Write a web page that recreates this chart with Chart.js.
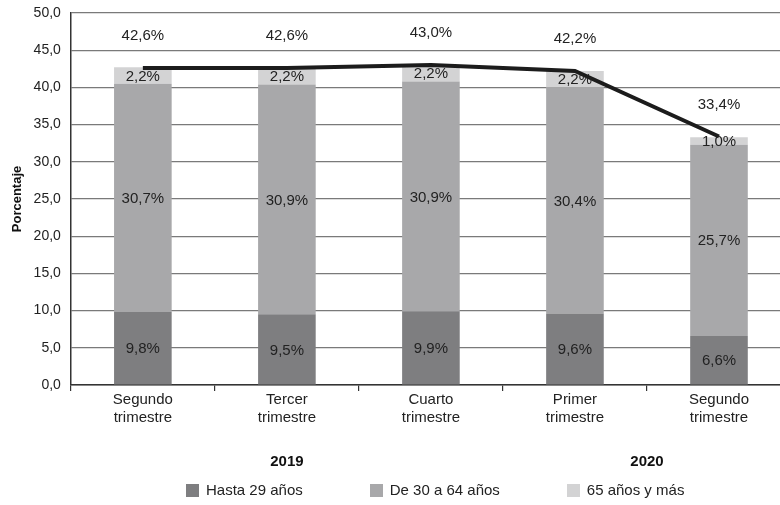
<!DOCTYPE html>
<html lang="es">
<head>
  <meta charset="UTF-8">
  <title>Porcentaje por edad</title>
  <style>
    body { margin: 0; overflow: hidden; background: #fff; font-family: 'Liberation Sans', Arial, sans-serif; }
    .wrap { position: relative; width: 791px; height: 505px; }
    #legend { position: absolute; left: 186px; top: 482px; display: flex; gap: 67px; font-size: 15px; color: #222; line-height: 16px; }
    #legend span.item { display: flex; align-items: center; white-space: nowrap; }
    #legend span.box { width: 13px; height: 13px; margin-right: 7px; display: inline-block; }
  </style>
</head>
<body>
  <div class="wrap">
    <canvas id="myChart" width="791" height="505"></canvas>
    <div id="legend"></div>
  </div>
  <script src="https://cdn.jsdelivr.net/npm/chart.js"></script>
  <script>
// data
const quarters = [['Segundo', 'trimestre'], ['Tercer', 'trimestre'], ['Cuarto', 'trimestre'], ['Primer', 'trimestre'], ['Segundo', 'trimestre']]
const years = ['2019', '2020']
const quartersPerYear = [3, 2]
const seriesNames = ['Hasta 29 años', 'De 30 a 64 años', '65 años y más']
const hasta29 = [9.8, 9.5, 9.9, 9.6, 6.6]
const de30a64 = [30.7, 30.9, 30.9, 30.4, 25.7]
const mas65 = [2.2, 2.2, 2.2, 2.2, 1.0]
const totals = [42.6, 42.6, 43.0, 42.2, 33.4]

const colors = ['#7e7e80', '#a8a8aa', '#d3d3d4']
const font = "'Liberation Sans', Arial, sans-serif"
const fmt = v => v.toFixed(1).replace('.', ',')

// center of each year group, in category units
let start = 0
const yearCenters = quartersPerYear.map(n => { const c = start + (n - 1) / 2; start += n; return c })

const valueLabels = {
  id: 'valueLabels',
  afterDatasetsDraw(chart) {
    const ctx = chart.ctx
    ctx.save()
    ctx.font = '15px ' + font
    ctx.fillStyle = '#222'
    ctx.textAlign = 'center'
    ctx.textBaseline = 'middle'
    chart.data.datasets.forEach((ds, i) => {
      const meta = chart.getDatasetMeta(i)
      meta.data.forEach((el, j) => {
        const txt = fmt(ds.data[j]) + '%'
        if (ds.type === 'line') ctx.fillText(txt, el.x, el.y - 32)
        else ctx.fillText(txt, el.x, (el.y + el.base) / 2 + 1)
      })
    })
    ctx.restore()
  }
}

const ctx = document.getElementById('myChart')

new Chart(ctx, {
  data: {
    labels: quarters,
    datasets: [
      { type: 'bar', label: seriesNames[0], data: hasta29, backgroundColor: colors[0], stack: 'edad', order: 1 },
      { type: 'bar', label: seriesNames[1], data: de30a64, backgroundColor: colors[1], stack: 'edad', order: 1 },
      { type: 'bar', label: seriesNames[2], data: mas65, backgroundColor: colors[2], stack: 'edad', order: 1 },
      { type: 'line', label: 'Total', data: totals, borderColor: '#1c1c1c', borderWidth: 4, pointRadius: 0, tension: 0, stack: 'total', order: 0 }
    ]
  },
  options: {
    responsive: false,
    animation: false,
    barPercentage: 0.4,
    categoryPercentage: 1,
    layout: { padding: { left: 10, top: 13, right: 0, bottom: 8 } },
    plugins: {
      legend: { display: false },
      tooltip: { enabled: false }
    },
    scales: {
      x: {
        stacked: true,
        grid: { drawOnChartArea: false, drawTicks: true, tickLength: 6, color: '#333', lineWidth: 1.2 },
        border: { color: '#333', width: 1.5 },
        ticks: { color: '#222', padding: 0, maxRotation: 0, font: { family: font, size: 15, lineHeight: 1.2 } }
      },
      x2: {
        type: 'linear',
        position: 'bottom',
        weight: 1,
        min: -0.5,
        max: quarters.length - 0.5,
        grid: { display: false, drawTicks: false },
        border: { display: false },
        afterBuildTicks: scale => { scale.ticks = yearCenters.map(v => ({ value: v })) },
        ticks: {
          padding: 26,
          color: '#111',
          maxRotation: 0,
          autoSkip: false,
          font: { family: font, size: 15, weight: 'bold', lineHeight: 1.2 },
          callback: (v, i) => years[i]
        }
      },
      y: {
        stacked: true,
        min: 0,
        max: 50,
        ticks: { stepSize: 5, padding: 0, color: '#222', font: { family: font, size: 14 }, callback: v => fmt(v) },
        grid: { color: '#7a7a7a', lineWidth: 1.2, drawTicks: true, tickLength: 10, tickColor: 'rgba(0,0,0,0)' },
        border: { color: '#333', width: 1.5 },
        title: { display: true, text: 'Porcentaje', color: '#111', padding: { top: 0, bottom: 8 }, font: { family: font, size: 13, weight: 'bold' } }
      }
    }
  },
  plugins: [valueLabels]
})

// legend as html under the plot
const legend = document.getElementById('legend')
seriesNames.forEach((name, i) => {
  const item = document.createElement('span')
  item.className = 'item'
  item.innerHTML = `<span class="box" style="background:${colors[i]}"></span>${name}`
  legend.appendChild(item)
})
  </script>
</body>
</html>
